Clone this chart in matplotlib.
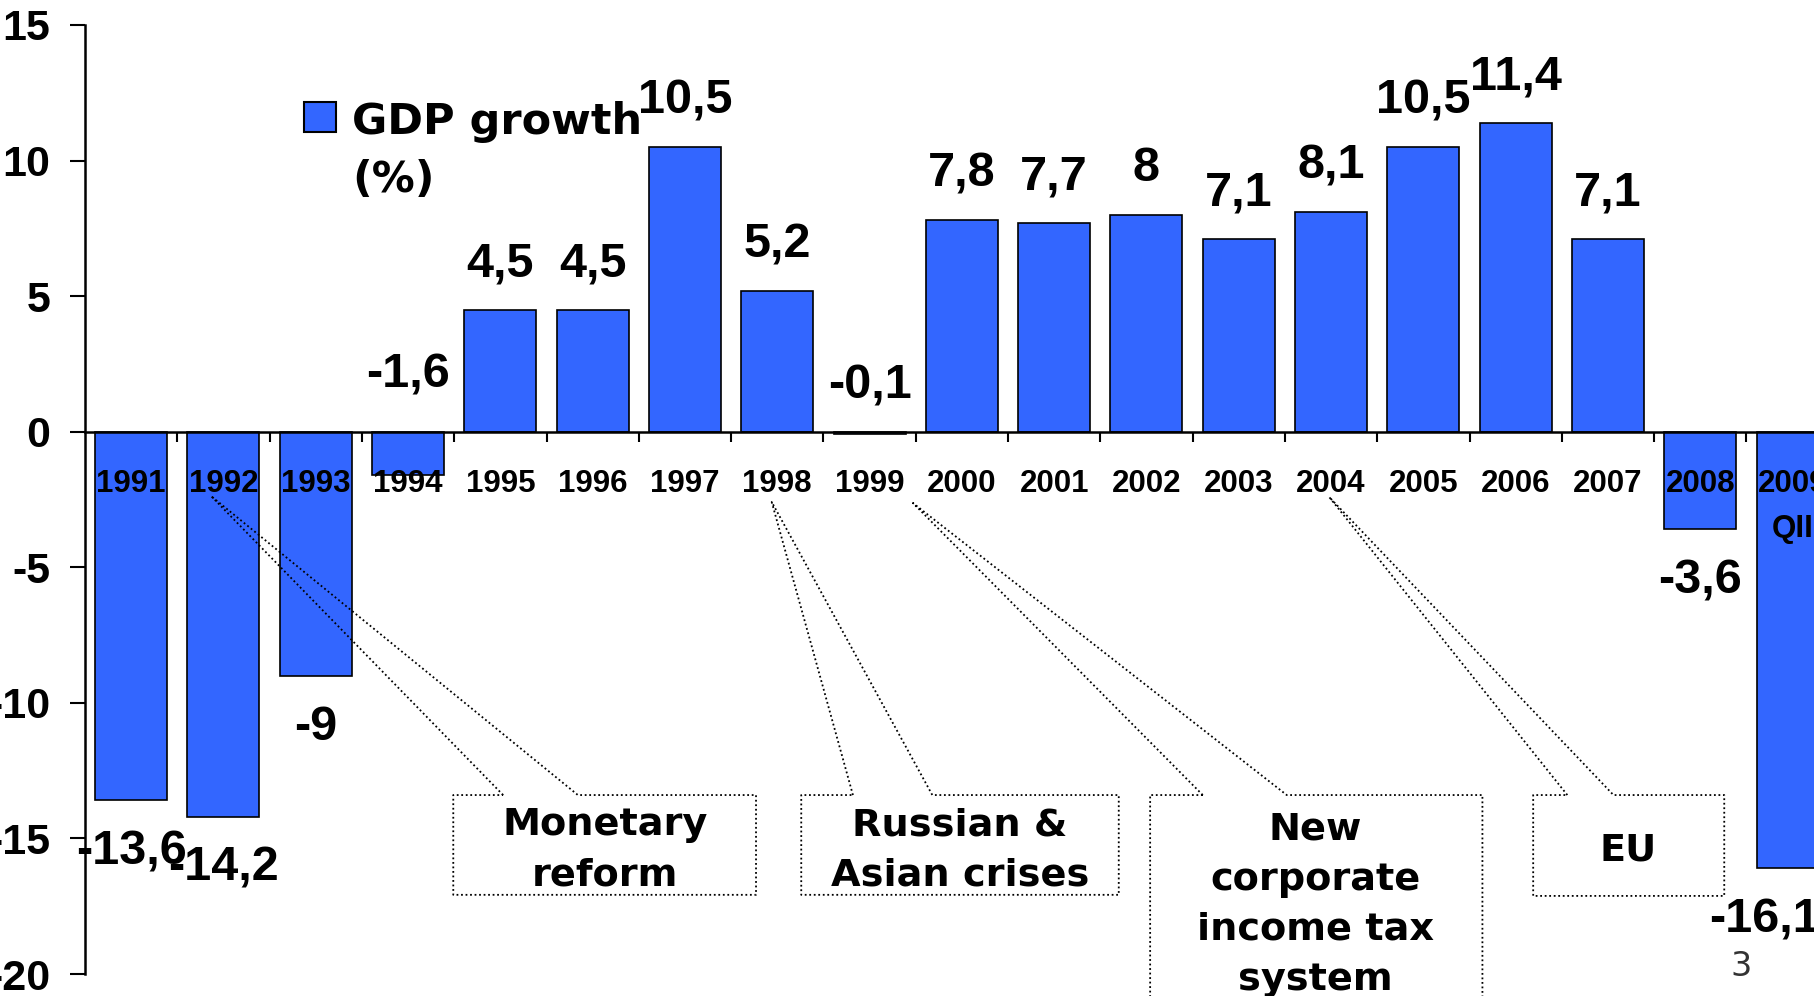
import matplotlib.pyplot as plt
from matplotlib.patches import Rectangle

# Dados
anos = ['1991', '1992', '1993', '1994', '1995', '1996', '1997', '1998', '1999', '2000',
        '2001', '2002', '2003', '2004', '2005', '2006', '2007', '2008', '2009']
crescimento = [-13.6, -14.2, -9, -1.6, 4.5, 4.5, 10.5, 5.2, -0.1, 7.8,
               7.7, 8, 7.1, 8.1, 10.5, 11.4, 7.1, -3.6, -16.1]
legenda = 'GDP growth\n(%)'

# Caixas de comentario: texto, caixa (esq, dir, topo, base), abertura, ponta, centro do texto
comentarios = [
    {"texto": "Monetary\nreform", "caixa": (3.49, 6.77, -13.40, -17.08),
     "abertura": (4.03, 4.84), "ponta": (0.865, -2.37), "centro": (5.13, -15.43)},
    {"texto": "Russian &\nAsian crises", "caixa": (7.26, 10.70, -13.40, -17.08),
     "abertura": (7.82, 8.68), "ponta": (6.94, -2.59), "centro": (8.98, -15.43)},
    {"texto": "New\ncorporate\nincome tax\nsystem", "caixa": (11.04, 14.64, -13.40, -23.0),
     "abertura": (11.61, 12.52), "ponta": (8.47, -2.63), "centro": (12.83, -17.45)},
    {"texto": "EU", "caixa": (15.19, 17.26, -13.40, -17.12),
     "abertura": (15.56, 16.06), "ponta": (12.98, -2.41), "centro": (16.22, -15.43)},
]

azul = '#3366ff'
fonte_num = ['Liberation Sans', 'DejaVu Sans']
fonte_txt = 'DejaVu Sans'

fig = plt.figure(figsize=(18.14, 9.96), dpi=100)
ax = fig.add_axes([85 / 1814, 22 / 996, 1753.7 / 1814, 949 / 996])

x = list(range(len(anos)))
ax.bar(x, crescimento, width=0.78, color=azul, edgecolor='black', linewidth=1.2, zorder=2)

ax.set_xlim(-0.5, len(anos) - 0.5)
ax.set_ylim(-20, 15)

# Eixos
for lado in ['top', 'right']:
    ax.spines[lado].set_visible(False)
ax.spines['bottom'].set_position(('data', 0))
ax.spines['bottom'].set_linewidth(1.8)
ax.spines['left'].set_linewidth(1.8)
ax.spines['bottom'].set_zorder(3)

ax.set_xticks([i + 0.5 for i in x[:-1]])
ax.set_xticklabels([])
ax.tick_params(axis='x', direction='out', length=7, width=1.5)
ax.set_yticks(range(-20, 16, 5))
ax.set_yticklabels([str(v) for v in range(-20, 16, 5)], fontsize=31,
                   fontweight='bold', family=fonte_num)
ax.tick_params(axis='y', direction='out', length=11, width=1.5, pad=14)

# Rotulos dos anos
for i, ano in enumerate(anos):
    ax.annotate(ano, (i, 0), xytext=(0, -26.5), textcoords='offset points',
                ha='center', va='top', fontsize=22.5, fontweight='bold',
                family=fonte_num, zorder=4)
ax.annotate('QII', (len(anos) - 1, 0), xytext=(0, -59), textcoords='offset points',
            ha='center', va='top', fontsize=22.5, fontweight='bold',
            family=fonte_num, zorder=4)

# Valores
acima_zero = {3: 32, 8: 24}
desvio_x = {18: -20}
for i, v in enumerate(crescimento):
    txt = f"{v:g}".replace('.', ',')
    dx = desvio_x.get(i, 0)
    if i in acima_zero:
        ax.annotate(txt, (i, 0), xytext=(dx, acima_zero[i]), textcoords='offset points',
                    ha='center', va='baseline', fontsize=35, fontweight='bold', family=fonte_num)
    elif v >= 0:
        ax.annotate(txt, (i, v), xytext=(dx, 24), textcoords='offset points',
                    ha='center', va='baseline', fontsize=35, fontweight='bold', family=fonte_num)
    else:
        ax.annotate(txt, (i, v), xytext=(dx, -21), textcoords='offset points',
                    ha='center', va='top', fontsize=35, fontweight='bold', family=fonte_num)

# Legenda feita a mao
fig.patches.append(Rectangle((304 / 1814, 1 - 132 / 996), 32 / 1814, 30 / 996,
                             transform=fig.transFigure, facecolor=azul,
                             edgecolor='black', linewidth=1.5))
fig.text(352 / 1814, 1 - 101 / 996, legenda, fontsize=31, fontweight='bold',
         family=fonte_txt, ha='left', va='top', linespacing=1.47)

# Caixas de comentario
for c in comentarios:
    e, d, t, b = c["caixa"]
    g1, g2 = c["abertura"]
    px, py = c["ponta"]
    xs = [g1, px, g2, d, d, e, e, g1]
    ys = [t, py, t, t, b, b, t, t]
    ax.plot(xs, ys, color='black', linestyle=(0, (1, 1.5)), linewidth=1.3,
            clip_on=False, zorder=5)
    ax.text(c["centro"][0], c["centro"][1], c["texto"], ha='center', va='center',
            fontsize=27.5, fontweight='bold', family=fonte_txt, linespacing=1.5,
            zorder=5)

# Numero da pagina
fig.text(1741 / 1814, 1 - 966 / 996, '3', ha='center', va='center', fontsize=24,
         color='#333333', family=fonte_txt)

fig.savefig('out.png', dpi=100)
